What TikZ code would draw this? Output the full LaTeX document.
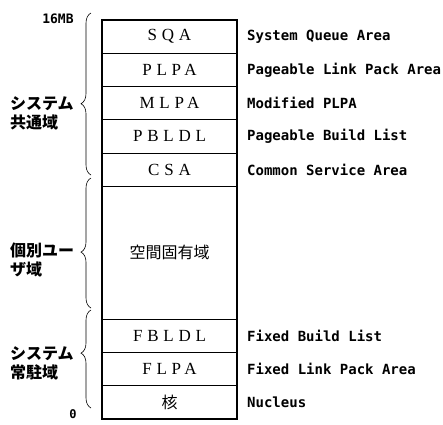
\documentclass[tikz,border=0pt]{standalone}
\usepackage{fontspec}
\setmainfont{Liberation Serif}
\newfontfamily\cjk{Noto Sans CJK JP}
\newfontfamily\memfont[LetterSpace=28]{Liberation Serif}
\newfontfamily\descfont{DejaVu Sans Mono}
\usetikzlibrary{positioning,decorations.pathreplacing}
\tikzset{
  area/.style={rectangle, draw=black, line width=1pt, minimum width=135pt, minimum height=#1,
               inner sep=0pt, outer sep=0pt, font=\memfont\fontsize{17}{17}\selectfont},
  area/.default=33.25pt,
  jarea/.style={area=#1, font=\cjk\fontsize{16}{16}\selectfont},
  jarea/.default=33.25pt,
  desc/.style={anchor=west, inner sep=0pt, font=\descfont\bfseries\fontsize{14}{14}\selectfont},
  grp/.style={align=left, anchor=north west, inner sep=0pt, font=\cjk\bfseries\fontsize{16}{19}\selectfont},
  brc/.style={decorate, decoration={brace, amplitude=10pt, aspect=#1}, line width=0.6pt},
}

\begin{document}
\begin{tikzpicture}[x=1pt, y=-1pt]
\useasboundingbox (0,0) rectangle (443,424);
% memory map, top = 16MB
\node[area] (sqa) at (169.5,36.625) {SQA};
\node[area, below=0pt of sqa] (plpa) {PLPA};
\node[area, below=0pt of plpa] (mlpa) {MLPA};
\node[area, below=0pt of mlpa] (pbldl) {PBLDL};
\node[area, below=0pt of pbldl] (csa) {CSA};
\node[jarea=133pt, below=0pt of csa] (priv) {空間固有域};
\node[area, below=0pt of priv] (fbldl) {FBLDL};
\node[area, below=0pt of fbldl] (flpa) {FLPA};
\node[jarea, below=0pt of flpa] (nuc) {核};
\draw[line width=1.6pt] (sqa.north west) rectangle (nuc.south east);
% descriptions
\node[desc, right=10pt of sqa] (dsqa) {System Queue Area};
\node[desc, right=10pt of plpa] (dplpa) {Pageable Link Pack Area};
\node[desc, right=10pt of mlpa] (dmlpa) {Modified PLPA};
\node[desc, right=10pt of pbldl] (dpbldl) {Pageable Build List};
\node[desc, right=10pt of csa] (dcsa) {Common Service Area};
\node[desc, right=10pt of fbldl] (dfbldl) {Fixed Build List};
\node[desc, right=10pt of flpa] (dflpa) {Fixed Link Pack Area};
\node[desc, right=10pt of nuc] (dnuc) {Nucleus};
% addresses
\node[font=\descfont\bfseries\fontsize{13}{13}\selectfont, inner sep=0pt] (top) at (58,19) {16MB};
\node[font=\descfont\bfseries\fontsize{12}{12}\selectfont, inner sep=0pt, anchor=south] (bot) at (73,419) {0};
% groups
\draw[brc=0.44] (91,175) -- (91,13);
\draw[brc=0.43] (91,308) -- (91,178);
\draw[brc=0.56] (91,408) -- (91,310);
\node[grp] (gcom) at (10,96) {システム\\共通域};
\node[grp] (gusr) at (10,243) {個別ユー\\ザ域};
\node[grp] (gres) at (10,346) {システム\\常駐域};
\end{tikzpicture}
\end{document}
